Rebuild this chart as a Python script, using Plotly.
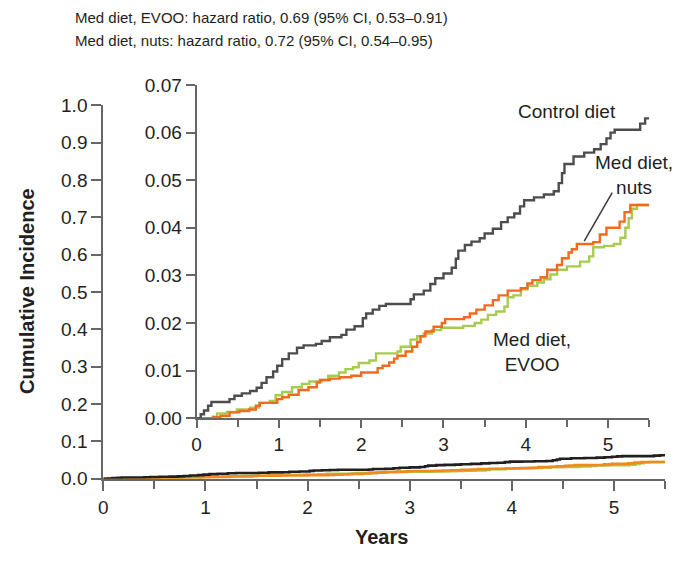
import plotly.graph_objects as go

W, H = 682, 561

# ---------------- data (years, cumulative incidence) ----------------
control_t = [0, 0.05, 0.09, 0.14, 0.18, 0.40, 0.46, 0.55, 0.65, 0.73, 0.79, 0.85, 0.93, 0.98, 1.04,
             1.12, 1.22, 1.30, 1.45, 1.52, 1.62, 1.76, 1.82, 1.92, 2.02, 2.06, 2.14, 2.22, 2.30, 2.60,
             2.64, 2.76, 2.84, 2.90, 3.00, 3.10, 3.15, 3.18, 3.26, 3.34, 3.44, 3.50, 3.60, 3.70, 3.78,
             3.86, 3.93, 3.98, 4.10, 4.22, 4.34, 4.40, 4.44, 4.47, 4.58, 4.71, 4.83, 4.91, 4.98, 5.03,
             5.08, 5.39, 5.45, 5.50]
control_v = [0, 0.0008, 0.0016, 0.0026, 0.0034, 0.0040, 0.0047, 0.0052, 0.0057, 0.0064, 0.0074, 0.0086,
             0.0098, 0.0110, 0.0124, 0.0136, 0.0148, 0.0153, 0.0156, 0.0162, 0.0170, 0.0175, 0.0186,
             0.0193, 0.0210, 0.0220, 0.0228, 0.0236, 0.0240, 0.0250, 0.0260, 0.0268, 0.0282, 0.0294,
             0.0304, 0.0316, 0.0335, 0.0352, 0.0364, 0.0371, 0.0378, 0.0388, 0.0398, 0.0412, 0.0422,
             0.0430, 0.0445, 0.0458, 0.0464, 0.0470, 0.0477, 0.0494, 0.0515, 0.0534, 0.0550, 0.0558,
             0.0565, 0.0576, 0.0588, 0.0600, 0.0606, 0.0619, 0.0630, 0.0630]

evoo_t = [0, 0.20, 0.25, 0.37, 0.49, 0.65, 0.76, 0.89, 0.96, 1.04, 1.16, 1.28, 1.37, 1.52, 1.60, 1.73,
          1.81, 1.90, 1.97, 2.10, 2.18, 2.44, 2.48, 2.60, 2.68, 2.76, 2.86, 2.97, 3.24, 3.38, 3.46,
          3.54, 3.64, 3.74, 3.78, 3.85, 3.94, 4.02, 4.14, 4.22, 4.30, 4.38, 4.50, 4.66, 4.77, 4.82,
          4.95, 5.07, 5.15, 5.21, 5.25, 5.29, 5.35, 5.50]
evoo_v = [0, 0.0003, 0.0010, 0.0013, 0.0018, 0.0022, 0.0032, 0.0036, 0.0048, 0.0055, 0.0065, 0.0072,
          0.0077, 0.0080, 0.0089, 0.0096, 0.0103, 0.0107, 0.0116, 0.0121, 0.0136, 0.0140, 0.0150,
          0.0165, 0.0172, 0.0178, 0.0185, 0.0190, 0.0194, 0.0200, 0.0207, 0.0217, 0.0224, 0.0234,
          0.0254, 0.0258, 0.0271, 0.0278, 0.0285, 0.0292, 0.0302, 0.0312, 0.0319, 0.0329, 0.0340,
          0.0359, 0.0362, 0.0366, 0.0379, 0.0400, 0.0420, 0.0440, 0.0448, 0.0448]

nuts_t = [0, 0.20, 0.29, 0.40, 0.52, 0.64, 0.72, 0.77, 0.98, 1.04, 1.12, 1.24, 1.36, 1.46, 1.50, 1.62,
          1.74, 1.88, 2.00, 2.20, 2.26, 2.34, 2.40, 2.44, 2.54, 2.62, 2.68, 2.72, 2.78, 2.88, 2.98,
          3.02, 3.25, 3.32, 3.40, 3.50, 3.60, 3.67, 3.78, 3.94, 4.02, 4.08, 4.18, 4.26, 4.38, 4.44,
          4.52, 4.56, 4.62, 4.82, 4.90, 4.98, 5.14, 5.20, 5.27, 5.50]
nuts_v = [0, 0.0002, 0.0005, 0.0012, 0.0015, 0.0018, 0.0026, 0.0032, 0.0040, 0.0044, 0.0049, 0.0059,
          0.0065, 0.0075, 0.0080, 0.0083, 0.0086, 0.0089, 0.0096, 0.0105, 0.0110, 0.0117, 0.0125,
          0.0131, 0.0140, 0.0150, 0.0160, 0.0172, 0.0182, 0.0192, 0.0200, 0.0208, 0.0212, 0.0220,
          0.0228, 0.0237, 0.0248, 0.0258, 0.0268, 0.0273, 0.0283, 0.0290, 0.0296, 0.0312, 0.0322,
          0.0336, 0.0348, 0.0355, 0.0366, 0.0370, 0.0386, 0.0400, 0.0413, 0.0433, 0.0448, 0.0448]

outer_yticks = [0.0, 0.1, 0.2, 0.3, 0.4, 0.5, 0.6, 0.7, 0.8, 0.9, 1.0]
inset_yticks = [0.00, 0.01, 0.02, 0.03, 0.04, 0.05, 0.06, 0.07]
year_ticks = [0, 1, 2, 3, 4, 5]

title_lines = ["Med diet, EVOO: hazard ratio, 0.69 (95% CI, 0.53\u20130.91)",
               "Med diet, nuts: hazard ratio, 0.72 (95% CI, 0.54\u20130.95)"]

# ---------------- styles ----------------
FONT = "Liberation Sans, Arial, sans-serif"
TXT = "#231f20"
AXC = "#666666"
C_CTRL_IN = "#4d4d4f"
C_CTRL_OUT = "#231f20"
C_EVOO = "#a6cc4f"
C_NUTS = "#f26a1f"


def px(x):
    return x / W


def py(y):
    return 1 - y / H


fig = go.Figure()

# outer (full-scale) plot
for t, v, c, w in [(evoo_t, evoo_v, C_EVOO, 2.6), (nuts_t, nuts_v, "#f08a1c", 2.6),
                   (control_t, control_v, C_CTRL_OUT, 2.6)]:
    fig.add_trace(go.Scatter(x=t, y=v, mode="lines", line=dict(color=c, width=w, shape="hv"),
                             xaxis="x", yaxis="y", showlegend=False, hoverinfo="skip"))

# inset (zoomed) plot
for t, v, c in [(evoo_t, evoo_v, C_EVOO), (nuts_t, nuts_v, C_NUTS), (control_t, control_v, C_CTRL_IN)]:
    fig.add_trace(go.Scatter(x=t, y=v, mode="lines", line=dict(color=c, width=2.4, shape="hv"),
                             xaxis="x2", yaxis="y2", showlegend=False, hoverinfo="skip"))

axis_common = dict(showgrid=False, zeroline=False, showline=True, linecolor=AXC, linewidth=2,
                   ticks="outside", tickcolor=AXC, tickwidth=2,
                   tickfont=dict(family=FONT, size=19, color=TXT))

fig.update_layout(
    width=W, height=H,
    margin=dict(l=0, r=0, t=0, b=0),
    paper_bgcolor="white", plot_bgcolor="white",
    xaxis=dict(domain=[px(99), px(665)], range=[0, 5.5], tickvals=year_ticks, ticklen=10,
               minor=dict(dtick=0.5, tick0=0, ticks="outside", ticklen=8, tickcolor=AXC, tickwidth=2),
               anchor="y", **axis_common),
    yaxis=dict(domain=[py(487), py(99)], range=[0, 1.0], tickvals=outer_yticks, tickformat=".1f",
               ticklen=10, anchor="x", **axis_common),
    xaxis2=dict(domain=[px(193), px(649)], range=[0, 5.5], tickvals=year_ticks, ticklen=8,
                minor=dict(dtick=0.5, tick0=0, ticks="outside", ticklen=7, tickcolor=AXC, tickwidth=2),
                anchor="y2", **axis_common),
    yaxis2=dict(domain=[py(424), py(78)], range=[0, 0.07], tickvals=inset_yticks, tickformat=".2f",
                ticklen=9, anchor="x2", **axis_common),
)

ann = []
for i, line in enumerate(title_lines):
    ann.append(dict(x=px(69), y=py(8 + 24 * i), xref="paper", yref="paper", xanchor="left",
                    yanchor="middle", text=line, showarrow=False,
                    font=dict(family=FONT, size=15, color=TXT)))
ann.append(dict(x=px(22), y=py(292), xref="paper", yref="paper", text="<b>Cumulative Incidence</b>",
                textangle=-90, showarrow=False, xanchor="center", yanchor="middle",
                font=dict(family=FONT, size=20, color=TXT)))
ann.append(dict(x=px(379), y=py(547), xref="paper", yref="paper", text="<b>Years</b>",
                showarrow=False, xanchor="center", yanchor="middle",
                font=dict(family=FONT, size=20, color=TXT)))
ann.append(dict(x=px(566), y=py(105), xref="paper", yref="paper", text="Control diet",
                showarrow=False, xanchor="center", yanchor="middle",
                font=dict(family=FONT, size=19, color=TXT)))
ann.append(dict(x=px(634), y=py(171), xref="paper", yref="paper", text="Med diet,<br>nuts",
                showarrow=False, xanchor="center", yanchor="middle",
                font=dict(family=FONT, size=19, color=TXT)))
ann.append(dict(x=px(531), y=py(355), xref="paper", yref="paper", text="Med diet,<br>EVOO",
                showarrow=False, xanchor="center", yanchor="middle",
                font=dict(family=FONT, size=19, color=TXT)))
fig.update_layout(annotations=ann)

# leader line for "nuts" label
fig.add_shape(type="line", xref="x2", yref="y2", x0=5.05, y0=0.0474, x1=4.71, y1=0.0372,
              line=dict(color="#3a3a3a", width=1.5))

fig.write_html("out.html")
